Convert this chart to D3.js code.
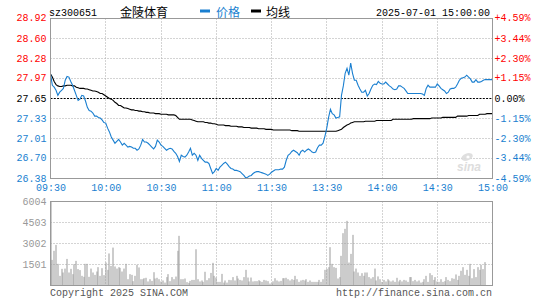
<!DOCTYPE html>
<html><head><meta charset="utf-8">
<script src="https://cdn.jsdelivr.net/npm/d3@7"></script>
<style>
body{margin:0;background:#fff;}
svg{display:block;}
</style></head><body>
<svg id="c" width="545" height="300"></svg>
<script>
const stockCode = "sz300651";
const stockName = "金陵体育";
const legendLabels = ["价格", "均线"];
const timestamp = "2025-07-01 15:00:00";
const copyrightText = "Copyright 2025 SINA.COM";
const urlText = "http://finance.sina.com.cn";
const prevClose = 27.65;
const timeLabels = ["09:30","10:00","10:30","11:00","11:30","13:30","14:00","14:30","15:00"];
const timeTickIdx = [0,30,60,90,120,150,180,210,240];
const priceTicks = [28.92,28.60,28.28,27.97,27.65,27.33,27.01,26.70,26.38];
const pctTicks = ["+4.59%","+3.44%","+2.30%","+1.15%","0.00%","-1.15%","-2.30%","-3.44%","-4.59%"];
const volTicks = [6004,4503,3002,1501];

const price = [
28.04,27.86,27.83,27.78,27.70,27.75,27.78,27.81,27.94,28.00,
27.99,27.92,27.86,27.78,27.70,27.62,27.64,27.70,27.69,27.61,
27.51,27.46,27.45,27.42,27.37,27.37,27.35,27.34,27.31,27.27,
27.26,27.18,27.12,27.04,26.99,26.94,26.97,27.00,26.96,26.91,
26.94,26.91,26.88,26.89,26.88,26.86,26.86,26.83,26.85,26.91,
27.00,26.96,26.96,26.94,26.91,26.88,26.85,26.89,26.99,26.96,
26.91,26.89,26.86,26.83,26.85,26.86,26.85,26.81,26.78,26.73,
26.65,26.75,26.73,26.72,26.75,26.80,26.86,26.75,26.78,26.75,
26.67,26.75,26.70,26.67,26.64,26.64,26.62,26.54,26.46,26.49,
26.54,26.51,26.56,26.59,26.62,26.64,26.61,26.57,26.54,26.53,
26.51,26.51,26.50,26.49,26.46,26.43,26.39,26.40,26.42,26.43,
26.46,26.48,26.49,26.49,26.48,26.47,26.46,26.45,26.43,26.45,
26.48,
26.50,26.52,26.52,26.52,26.53,26.53,26.56,26.67,26.75,
26.77,26.81,26.83,26.81,26.79,26.75,26.81,26.83,26.80,26.83,
26.85,26.83,26.80,26.79,26.80,26.87,26.91,26.91,26.94,27.05,
27.18,27.35,27.48,27.41,27.39,27.34,27.35,27.36,27.70,27.85,
28.05,28.13,28.02,28.21,28.05,27.94,27.94,27.86,27.80,27.75,
27.75,27.78,27.69,27.73,27.80,27.86,27.88,27.87,27.92,27.89,
27.88,27.88,27.91,27.88,27.85,27.83,27.80,27.79,27.80,27.85,
27.85,27.83,27.81,27.77,27.73,27.73,27.73,27.73,27.73,27.73,
27.73,27.73,27.72,27.70,27.81,27.86,27.83,27.83,27.83,27.83,
27.88,27.85,27.81,27.79,27.77,27.73,27.75,27.80,27.81,27.81,
27.83,27.88,27.94,27.97,27.98,27.99,28.02,27.99,27.96,27.91,
27.91,27.95,27.91,27.91,27.92,27.94,27.95,27.95,27.95,27.95,
27.95
];

const avgPrice = [
28.04,27.99,27.92,27.87,27.85,27.84,27.84,27.85,27.85,27.86,
27.86,27.86,27.85,27.85,27.83,27.82,27.81,27.81,27.81,27.80,
27.80,27.79,27.78,27.77,27.77,27.76,27.75,27.73,27.73,27.71,
27.69,27.67,27.65,27.64,27.62,27.59,27.57,27.54,27.54,27.52,
27.50,27.50,27.49,27.48,27.47,27.47,27.46,27.46,27.45,27.45,
27.44,27.44,27.43,27.43,27.42,27.42,27.42,27.41,27.41,27.41,
27.40,27.40,27.40,27.40,27.39,27.39,27.39,27.39,27.38,27.35,
27.32,27.32,27.32,27.32,27.32,27.32,27.32,27.31,27.30,27.29,
27.28,27.28,27.28,27.28,27.27,27.27,27.26,27.26,27.25,27.25,
27.24,27.23,27.23,27.23,27.23,27.22,27.22,27.22,27.21,27.21,
27.21,27.21,27.20,27.20,27.20,27.19,27.19,27.19,27.19,27.18,
27.18,27.18,27.18,27.17,27.17,27.17,27.17,27.16,27.16,27.16,
27.16,
27.15,27.15,27.15,27.15,27.15,27.15,27.15,27.15,27.15,
27.15,27.14,27.14,27.14,27.14,27.13,27.13,27.13,27.13,27.13,
27.13,27.13,27.13,27.13,27.13,27.13,27.13,27.13,27.13,27.13,
27.13,27.13,27.13,27.13,27.13,27.13,27.14,27.15,27.16,27.19,
27.21,27.23,27.24,27.26,27.27,27.28,27.28,27.28,27.28,27.28,
27.28,27.29,27.29,27.29,27.29,27.29,27.29,27.30,27.30,27.30,
27.30,27.30,27.30,27.30,27.30,27.30,27.32,27.32,27.32,27.32,
27.32,27.32,27.32,27.32,27.32,27.32,27.32,27.33,27.33,27.33,
27.33,27.33,27.33,27.33,27.33,27.33,27.33,27.34,27.34,27.34,
27.34,27.34,27.34,27.35,27.35,27.35,27.35,27.35,27.35,27.35,
27.35,27.37,27.37,27.37,27.37,27.37,27.37,27.38,27.38,27.38,
27.38,27.38,27.38,27.40,27.40,27.40,27.40,27.41,27.41,27.41,
27.41
];

const volume = [
6004,1830,2480,2900,1550,690,1190,930,1210,1900,
930,1190,810,1520,1760,1170,1100,690,620,1550,
1550,620,1210,930,760,1000,1310,690,1240,740,
1640,1120,2290,1400,2710,1360,1210,1310,1260,1000,
1210,1550,450,810,760,310,690,1480,1290,450,
450,520,550,290,450,330,950,500,550,450,
290,360,210,600,810,310,600,450,640,2480,
3550,450,450,500,240,190,330,400,400,2590,
450,290,360,260,980,380,520,900,1620,690,
570,260,260,830,210,360,210,400,380,600,
360,690,500,400,360,600,1120,570,290,570,
290,310,310,380,310,260,400,360,310,140,
140,
300,520,360,290,330,520,520,550,450,
360,450,400,690,450,260,360,400,360,450,
260,360,260,260,260,260,400,260,450,1120,
1190,1310,2740,1550,1310,1260,500,600,2120,3740,
4050,4620,1640,2260,3620,1000,1210,930,690,880,
690,930,930,600,500,600,1210,360,650,450,
260,400,290,450,360,290,360,260,550,290,
400,290,400,360,260,600,600,310,400,290,
360,210,260,450,690,260,880,740,400,600,
290,260,450,260,310,600,400,310,520,480,
790,400,690,1050,1310,760,1120,690,1550,520,
1170,600,1310,1120,1480,1170,1670,0,0,0,
0
];

const BLUE = "#1a7fd0", RED = "#ff0000", GRID = "#a8a8a8", BOX = "#999999";
const MONO = "'Liberation Mono','DejaVu Sans Mono',monospace";
const CJK = "'Noto Sans CJK SC','Noto Sans',sans-serif";

const svg = d3.select("#c");
const L = 50.5, R = 492.5, T = 18.5, B = 178.5, VT = 201.5, VB = 285.5;

const x = d3.scaleLinear().domain([0, 240]).range([L, R]);
const y = d3.scaleLinear().domain([prevClose * (1 - 0.0459), prevClose * (1 + 0.0459)]).range([B, T]);
const yv = d3.scaleLinear().domain([0, 6004]).range([VB, VT]);
const snap = v => Math.round(v - 0.5) + 0.5;

// gridlines: main panel
const gMain = svg.append("g");
gMain.selectAll("line.hg").data(priceTicks.slice(1, -1)).join("line")
  .attr("x1", L).attr("x2", R)
  .attr("y1", d => snap(y(d))).attr("y2", d => snap(y(d)))
  .attr("stroke", d => d === prevClose ? "#000" : GRID)
  .attr("stroke-dasharray", d => d === prevClose ? "2,1.3" : "1,2");
gMain.selectAll("line.vg").data(timeTickIdx.slice(1, -1)).join("line")
  .attr("x1", d => snap(x(d))).attr("x2", d => snap(x(d)))
  .attr("y1", T).attr("y2", B)
  .attr("stroke", GRID).attr("stroke-dasharray", "1,2");

// gridlines: volume panel
const gVol = svg.append("g");
gVol.selectAll("line.hg").data(volTicks.slice(1)).join("line")
  .attr("x1", L).attr("x2", R)
  .attr("y1", d => snap(yv(d))).attr("y2", d => snap(yv(d)))
  .attr("stroke", GRID).attr("stroke-dasharray", "1,2");
gVol.selectAll("line.vg").data(timeTickIdx.slice(1, -1)).join("line")
  .attr("x1", d => snap(x(d))).attr("x2", d => snap(x(d)))
  .attr("y1", VT).attr("y2", VB)
  .attr("stroke", GRID).attr("stroke-dasharray", "1,2");

// watermark
const wm = svg.append("g").attr("opacity", 0.9);
wm.append("ellipse").attr("cx", 467).attr("cy", 157).attr("rx", 6).attr("ry", 3.5)
  .attr("fill", "#dcdcdc").attr("transform", "rotate(-20,467,157)");
wm.append("circle").attr("cx", 468).attr("cy", 157).attr("r", 1.6).attr("fill", "#fff");
wm.append("text").attr("x", 457).attr("y", 171).text("sina")
  .attr("font-family", "'Liberation Sans',sans-serif").attr("font-size", 12)
  .attr("font-style", "italic").attr("font-weight", "bold").attr("fill", "#dadada");

// volume bars
svg.append("g").selectAll("rect").data(volume).join("rect")
  .attr("x", (d, i) => Math.round(x(i)) - 0.5 < L ? L - 0.5 : Math.round(x(i)) - 0.5)
  .attr("width", 1)
  .attr("y", d => yv(Math.min(d, 6004)))
  .attr("height", d => VB - yv(Math.min(d, 6004)))
  .attr("fill", "#999");

// price & average lines
const line = d3.line().x((d, i) => x(i)).y(d => y(d));
svg.append("path").datum(avgPrice).attr("d", line)
  .attr("fill", "none").attr("stroke", "#000").attr("stroke-width", 1.1);
svg.append("path").datum(price).attr("d", line)
  .attr("fill", "none").attr("stroke", BLUE).attr("stroke-width", 1.1);

// boxes
svg.append("rect").attr("x", L).attr("y", T).attr("width", R - L).attr("height", B - T)
  .attr("fill", "none").attr("stroke", BOX);
svg.append("rect").attr("x", L).attr("y", VT).attr("width", R - L).attr("height", VB - VT)
  .attr("fill", "none").attr("stroke", BOX);

function styleAxis(g) {
  g.select(".domain").remove();
  g.selectAll(".tick line").remove();
  g.attr("font-family", MONO).attr("font-size", 10);
}
const colorFor = (d) => d > prevClose ? RED : (d < prevClose ? BLUE : "#000");

// left price axis
svg.append("g").attr("transform", `translate(${L - 1},0)`)
  .call(d3.axisLeft(y).tickValues(priceTicks).tickSize(0).tickPadding(3).tickFormat(d3.format(".2f")))
  .call(styleAxis)
  .selectAll(".tick text").attr("fill", d => colorFor(d)).attr("dy", "0.25em");

// right pct axis
svg.append("g").attr("transform", `translate(${R},0)`)
  .call(d3.axisRight(y).tickValues(priceTicks).tickSize(0).tickPadding(2).tickFormat((d, i) => pctTicks[i]))
  .call(styleAxis)
  .selectAll(".tick text").attr("fill", d => colorFor(d)).attr("dy", "0.25em");

// time axis
svg.append("g").attr("transform", `translate(0,${B})`)
  .call(d3.axisBottom(x).tickValues(timeTickIdx).tickSize(0).tickPadding(5).tickFormat((d, i) => timeLabels[i]))
  .call(styleAxis)
  .selectAll(".tick text").attr("fill", BLUE);

// volume axis
svg.append("g").attr("transform", `translate(${L - 1},0)`)
  .call(d3.axisLeft(yv).tickValues(volTicks).tickSize(0).tickPadding(3).tickFormat(d3.format("d")))
  .call(styleAxis)
  .selectAll(".tick text").attr("fill", "#999").attr("dy", "0.25em");

// header
svg.append("text").attr("x", 49).attr("y", 16).text(stockCode)
  .attr("font-family", MONO).attr("font-size", 10).attr("fill", "#000");
svg.append("text").attr("x", 120).attr("y", 16.5).text(stockName)
  .attr("font-family", CJK).attr("font-size", 12).attr("fill", "#000");
svg.append("rect").attr("x", 200).attr("y", 9.5).attr("width", 10).attr("height", 3).attr("fill", BLUE);
svg.append("text").attr("x", 216).attr("y", 16.5).text(legendLabels[0])
  .attr("font-family", CJK).attr("font-size", 12).attr("fill", BLUE);
svg.append("rect").attr("x", 251).attr("y", 9.5).attr("width", 10).attr("height", 3).attr("fill", "#000");
svg.append("text").attr("x", 266).attr("y", 16.5).text(legendLabels[1])
  .attr("font-family", CJK).attr("font-size", 12).attr("fill", "#000");
svg.append("text").attr("x", 490).attr("y", 16).attr("text-anchor", "end").text(timestamp)
  .attr("font-family", MONO).attr("font-size", 10).attr("fill", "#000");

// footer
svg.append("text").attr("x", 50).attr("y", 295.5).text(copyrightText)
  .attr("font-family", MONO).attr("font-size", 10).attr("fill", "#555");
svg.append("text").attr("x", 492).attr("y", 295.5).attr("text-anchor", "end").text(urlText)
  .attr("font-family", MONO).attr("font-size", 10).attr("fill", "#555");
</script>
</body></html>
